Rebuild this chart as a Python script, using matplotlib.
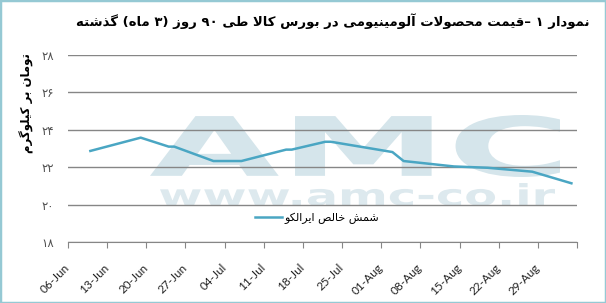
import matplotlib
matplotlib.use("Agg")
import matplotlib.pyplot as plt
from matplotlib.font_manager import FontProperties
from matplotlib.textpath import TextPath
from matplotlib.patches import PathPatch, Rectangle
from matplotlib.transforms import Affine2D, ScaledTranslation
import pandas as pd

# data
dates = ["2023-06-10", "2023-06-19", "2023-06-24", "2023-06-25", "2023-07-02",
         "2023-07-07", "2023-07-15", "2023-07-16", "2023-07-22", "2023-07-23",
         "2023-08-03", "2023-08-05", "2023-08-14", "2023-08-20", "2023-08-28",
         "2023-09-04"]
prices = [22.87, 23.58, 23.10, 23.10, 22.33, 22.33, 22.94, 22.94, 23.36, 23.36,
          22.81, 22.33, 22.04, 21.97, 21.76, 21.14]
tick_dates = pd.date_range("2023-06-06", "2023-09-05", freq="7D")
y_ticks = [18, 20, 22, 24, 26, 28]

title = "نمودار ۱ –قیمت محصولات آلومینیومی در بورس کالا طی ۹۰ روز (۳ ماه) گذشته"
y_label = "تومان بر کیلوگرم"
series_name = "شمش خالص ایرالکو"

# minimal arabic shaping: (isolated, final, initial, medial)
FORMS = {
    "ا": ("\uFE8D", "\uFE8E"), "آ": ("\uFE81", "\uFE82"),
    "د": ("\uFEA9", "\uFEAA"), "ذ": ("\uFEAB", "\uFEAC"),
    "ر": ("\uFEAD", "\uFEAE"), "ز": ("\uFEAF", "\uFEB0"),
    "و": ("\uFEED", "\uFEEE"),
    "ب": ("\uFE8F", "\uFE90", "\uFE91", "\uFE92"),
    "ت": ("\uFE95", "\uFE96", "\uFE97", "\uFE98"),
    "ح": ("\uFEA1", "\uFEA2", "\uFEA3", "\uFEA4"),
    "خ": ("\uFEA5", "\uFEA6", "\uFEA7", "\uFEA8"),
    "س": ("\uFEB1", "\uFEB2", "\uFEB3", "\uFEB4"),
    "ش": ("\uFEB5", "\uFEB6", "\uFEB7", "\uFEB8"),
    "ص": ("\uFEB9", "\uFEBA", "\uFEBB", "\uFEBC"),
    "ط": ("\uFEC1", "\uFEC2", "\uFEC3", "\uFEC4"),
    "ق": ("\uFED5", "\uFED6", "\uFED7", "\uFED8"),
    "ل": ("\uFEDD", "\uFEDE", "\uFEDF", "\uFEE0"),
    "م": ("\uFEE1", "\uFEE2", "\uFEE3", "\uFEE4"),
    "ن": ("\uFEE5", "\uFEE6", "\uFEE7", "\uFEE8"),
    "ه": ("\uFEE9", "\uFEEA", "\uFEEB", "\uFEEC"),
    "ک": ("\uFB8E", "\uFB8F", "\uFB90", "\uFB91"),
    "گ": ("\uFB92", "\uFB93", "\uFB94", "\uFB95"),
    "ی": ("\uFBFC", "\uFBFD", "\uFBFE", "\uFBFF"),
}
LAM_ALEF = {"ا": ("\uFEFB", "\uFEFC"), "آ": ("\uFEF5", "\uFEF6")}
DIGITS = "0123456789۰۱۲۳۴۵۶۷۸۹"


def rtl(s):
    def dual(c):
        return c in FORMS and len(FORMS[c]) == 4
    out = []
    i = 0
    while i < len(s):
        c = s[i]
        if c not in FORMS:
            out.append(c)
            i += 1
            continue
        jp = i > 0 and dual(s[i - 1])
        if c == "ل" and i + 1 < len(s) and s[i + 1] in LAM_ALEF:
            out.append(LAM_ALEF[s[i + 1]][1 if jp else 0])
            i += 2
            continue
        jn = dual(c) and i + 1 < len(s) and s[i + 1] in FORMS
        f = FORMS[c]
        out.append(f[3] if jp and jn else f[1] if jp else f[2] if jn else f[0])
        i += 1
    # visual order, digit runs stay left to right
    tokens = []
    for c in out:
        if c in DIGITS and tokens and tokens[-1][-1] in DIGITS:
            tokens[-1] += c
        else:
            tokens.append(c)
    mirror = {"(": ")", ")": "("}
    return "".join(mirror.get(t, t) for t in reversed(tokens))


fig = plt.figure(figsize=(6.06, 3.03), dpi=100)
W, H = 606, 303
ax = fig.add_axes([68 / W, 1 - 242 / H, (577 - 68) / W, (242 - 55) / H])

x = pd.to_datetime(dates)
ax.plot(x, prices, color="#4aa6c3", lw=1.8, zorder=3, label=rtl(series_name))

ax.set_xlim(tick_dates[0], tick_dates[-1])
ax.set_ylim(18, 28)
ax.set_yticks(y_ticks)
fa = str.maketrans("0123456789", "۰۱۲۳۴۵۶۷۸۹")
ax.set_yticklabels([str(v).translate(fa) for v in y_ticks], fontsize=8.5,
                   color="#505050", family="DejaVu Sans")
ax.set_xticks(tick_dates)
ax.set_xticklabels([d.strftime("%d-%b") for d in tick_dates[:-1]] + [""],
                   rotation=45, ha="right", va="center", rotation_mode="anchor",
                   fontsize=8.5, family="Lato", color="#222222")
shift = ScaledTranslation(9 / 100, 0, fig.dpi_scale_trans)
for lab in ax.get_xticklabels():
    lab.set_transform(lab.get_transform() + shift)
ax.tick_params(axis="y", length=0, pad=10)
ax.tick_params(axis="x", length=4, color="#868686", direction="out", pad=13)
ax.grid(axis="y", color="#868686", lw=1)
for side in ["left", "right", "top"]:
    ax.spines[side].set_visible(False)
ax.spines["bottom"].set_color("#868686")

# watermark
def stretched(s, box, color):
    x0, y0, x1, y1 = box
    tp = TextPath((0, 0), s, size=100, prop=FontProperties(family="DejaVu Sans", weight="bold"))
    e = tp.get_extents()
    tr = (Affine2D().translate(-e.x0, -e.y0)
          .scale((x1 - x0) / e.width / W, (y1 - y0) / e.height / H)
          .translate(x0 / W, 1 - y1 / H) + fig.transFigure)
    ax.add_artist(PathPatch(tp, transform=tr, fc=color, ec="none", zorder=0.2))

stretched("AMC", (150, 115, 560, 177), "#d5e5eb")
stretched("www.amc-co.ir", (160, 183, 555, 206), "#dde9ee")

ax.legend(loc="center", bbox_to_anchor=((317 - 68) / (577 - 68), (242 - 218) / (242 - 55)),
          frameon=False, prop={"family": "DejaVu Sans", "size": 8},
          handlelength=2.4, handletextpad=0.2)

t = fig.text(590 / W, 1 - 21 / H, rtl(title), ha="right", va="center",
             fontsize=10, fontweight="bold", family="DejaVu Sans")
r = fig.canvas.get_renderer()
t.set_fontsize(10 * 515 / t.get_window_extent(r).width)
fig.text(27 / W, 1 - 103 / H, rtl(y_label), ha="center", va="center",
         rotation=90, fontsize=8.5, fontweight="bold", family="DejaVu Sans")

fig.patches.append(Rectangle((0, 0), 1, 1, transform=fig.transFigure, fill=False,
                             ec="#95c9d4", lw=2.5))

fig.savefig("out.png", dpi=100)
